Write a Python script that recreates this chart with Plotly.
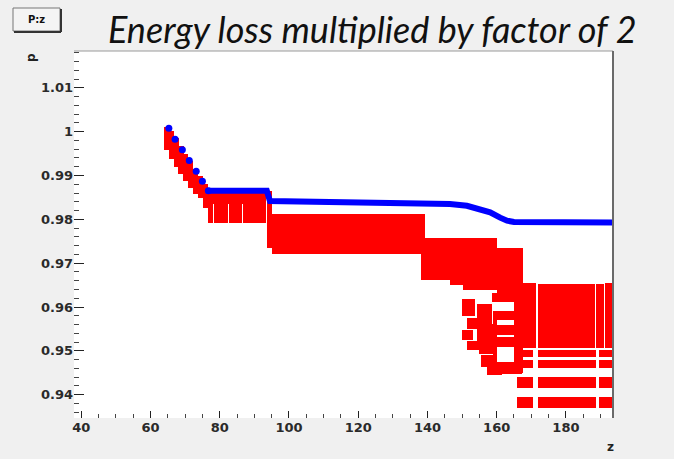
import plotly.graph_objects as go

# ---------------- data ----------------
# Red cloud (all particles): rectangular patches
# each entry: z start, z end, p low, p high
red_z0 = [63.85, 65.25, 66.65, 68.05, 69.45, 70.85, 72.25, 73.65, 75.05,
          76.5, 76.5, 78.4, 82.7, 86.7,
          93.7, 95.0,
          138.0, 146.6, 150.3, 160.0,
          149.9, 151.3, 149.9, 151.3, 154.3, 154.3, 154.9, 155.5, 157.2,
          159.3, 159.3, 159.3, 159.7, 158.6, 165.0, 159.0,
          167.6, 171.8, 188.8, 191.3,
          165.9, 171.8, 189.6,
          165.9, 171.8, 189.6,
          165.9, 171.8, 189.6,
          165.9, 171.8, 189.6]
red_z1 = [65.35, 66.75, 68.15, 69.55, 70.95, 72.35, 73.75, 75.15, 76.55,
          93.5, 78.0, 82.3, 86.3, 93.3,
          95.2, 139.3,
          146.6, 150.3, 160.0, 167.6,
          153.6, 154.2, 153.3, 154.8, 158.6, 159.1, 159.1, 160.0, 161.5,
          167.2, 167.2, 167.2, 167.2, 167.6, 167.6, 160.2,
          171.3, 188.3, 190.9, 193.6,
          170.4, 188.7, 193.4,
          170.4, 188.7, 193.4,
          170.4, 188.7, 193.4,
          170.4, 188.7, 193.4]
red_lo = [0.9958, 0.9937, 0.9920, 0.9903, 0.9887, 0.9872, 0.9859, 0.9848, 0.9826,
          0.9836, 0.9791, 0.9791, 0.9791, 0.9791,
          0.9735, 0.9722,
          0.9661, 0.9650, 0.9639, 0.9632,
          0.9580, 0.9549, 0.9524, 0.9501, 0.9561, 0.9520, 0.9493, 0.9464, 0.9446,
          0.9571, 0.9537, 0.9509, 0.9448, 0.9612, 0.9450, 0.9455,
          0.9506, 0.9506, 0.9506, 0.9506,
          0.9486, 0.9486, 0.9486,
          0.9461, 0.9461, 0.9461,
          0.9415, 0.9415, 0.9415,
          0.9369, 0.9369, 0.9369]
red_hi = [1.0010, 1.0002, 0.9985, 0.9968, 0.9950, 0.9933, 0.9915, 0.9898, 0.9880,
          0.9866, 0.9836, 0.9836, 0.9836, 0.9836,
          0.9864, 0.9813,
          0.9757, 0.9757, 0.9757, 0.9734,
          0.9619, 0.9574, 0.9547, 0.9522, 0.9606, 0.9561, 0.9520, 0.9490, 0.9467,
          0.9590, 0.9558, 0.9531, 0.9474, 0.9632, 0.9632, 0.9590,
          0.9655, 0.9652, 0.9652, 0.9655,
          0.9502, 0.9502, 0.9502,
          0.9479, 0.9479, 0.9479,
          0.9440, 0.9440, 0.9440,
          0.9394, 0.9394, 0.9394]

# Blue series (reference particle)
blue_z = [65.3, 67.1, 69.2, 71.2, 73.2, 75.0, 76.7, 93.6, 94.5, 144.5, 146.5,
          151.4, 155.2, 158.1, 161.0, 163.0, 165.0, 193.6]
blue_p = [1.0008, 0.9983, 0.9959, 0.9934, 0.9910, 0.9887, 0.9865, 0.9865, 0.9842,
          0.9838, 0.9835, 0.9831, 0.9823, 0.9816, 0.9804, 0.9797, 0.9794, 0.9793]

x_tickvals = [40, 60, 80, 100, 120, 140, 160, 180]
y_tickvals = [0.94, 0.95, 0.96, 0.97, 0.98, 0.99, 1.0, 1.01]
y_ticktext = ["0.94", "0.95", "0.96", "0.97", "0.98", "0.99", "1", "1.01"]

title_text = "Energy loss multiplied by factor of 2"

# ---------------- figure ----------------
fig = go.Figure()

centers = [(a + b) / 2 for a, b in zip(red_z0, red_z1)]
widths = [b - a for a, b in zip(red_z0, red_z1)]
heights = [h - l for l, h in zip(red_lo, red_hi)]
fig.add_trace(go.Bar(x=centers, y=heights, base=red_lo, width=widths,
                     marker=dict(color="#ff0000", line=dict(width=0)),
                     opacity=1, showlegend=False, hoverinfo="skip"))

fig.add_trace(go.Scatter(x=blue_z[6:], y=blue_p[6:], mode="lines",
                         line=dict(color="#0000ff", width=6),
                         showlegend=False))
fig.add_trace(go.Scatter(x=blue_z[:7], y=blue_p[:7], mode="markers",
                         marker=dict(color="#0000ff", size=7, symbol="circle"),
                         showlegend=False))

tickfont = dict(family="DejaVu Sans", size=13, color="#2a2a2a", weight="bold")

fig.update_layout(
    width=674, height=459,
    margin=dict(l=74, r=61, t=51, b=41),
    paper_bgcolor="#f0f0f0",
    plot_bgcolor="#ffffff",
    barmode="overlay",
    bargap=0,
    showlegend=False,
    xaxis=dict(range=[37.9, 193.6], tickvals=x_tickvals,
               ticks="inside", ticklen=7, tickcolor="#222", tickwidth=1,
               minor=dict(dtick=5, tick0=0, ticks="inside", ticklen=4,
                          tickcolor="#444"),
               showgrid=False, zeroline=False, showline=False,
               tickfont=tickfont),
    yaxis=dict(range=[0.9347, 1.0184], tickvals=y_tickvals, ticktext=y_ticktext,
               ticks="inside", ticklen=10, tickcolor="#222", tickwidth=1,
               minor=dict(dtick=0.002, tick0=0.94, ticks="inside", ticklen=5,
                          tickcolor="#444"),
               showgrid=False, zeroline=False, showline=False,
               tickfont=tickfont),
    shapes=[
        dict(type="line", xref="paper", yref="paper", x0=0, x1=1, y0=1, y1=1,
             line=dict(color="#9a9a9a", width=1)),
        dict(type="line", xref="paper", yref="paper", x0=1, x1=1, y0=0, y1=1,
             line=dict(color="#6a6a6a", width=2)),
        # P:z title box
        dict(type="rect", xref="paper", yref="paper",
             x0=(13 - 74) / 539, x1=(60 - 74) / 539,
             y0=(418 - 31) / 367, y1=(418 - 8) / 367,
             line=dict(color="#777", width=1), fillcolor="#f4f4f4"),
        dict(type="line", xref="paper", yref="paper",
             x0=(14 - 74) / 539, x1=(61 - 74) / 539,
             y0=(418 - 32) / 367, y1=(418 - 32) / 367,
             line=dict(color="#333", width=2)),
        dict(type="line", xref="paper", yref="paper",
             x0=(61 - 74) / 539, x1=(61 - 74) / 539,
             y0=(418 - 32) / 367, y1=(418 - 9) / 367,
             line=dict(color="#333", width=2)),
    ],
    annotations=[
        dict(text="<i>" + title_text + "</i>", xref="paper", yref="paper",
             x=(372 - 74) / 539, y=(418 - 29) / 367, xanchor="center",
             yanchor="middle", showarrow=False,
             font=dict(family="Lato", size=36, color="#111")),
        dict(text="P:z", xref="paper", yref="paper",
             x=(36 - 74) / 539, y=(418 - 20) / 367, xanchor="center",
             yanchor="middle", showarrow=False,
             font=dict(family="DejaVu Sans", size=10, color="#111", weight="bold")),
        dict(text="p", xref="paper", yref="paper",
             x=(31 - 74) / 539, y=(418 - 58) / 367, xanchor="center",
             yanchor="middle", showarrow=False, textangle=-90,
             font=dict(family="DejaVu Sans", size=12, color="#222", weight="bold")),
        dict(text="z", xref="paper", yref="paper",
             x=(610 - 74) / 539, y=(418 - 447) / 367, xanchor="center",
             yanchor="middle", showarrow=False,
             font=dict(family="DejaVu Sans", size=12, color="#222", weight="bold")),
    ],
)

fig.write_html("out.html")
